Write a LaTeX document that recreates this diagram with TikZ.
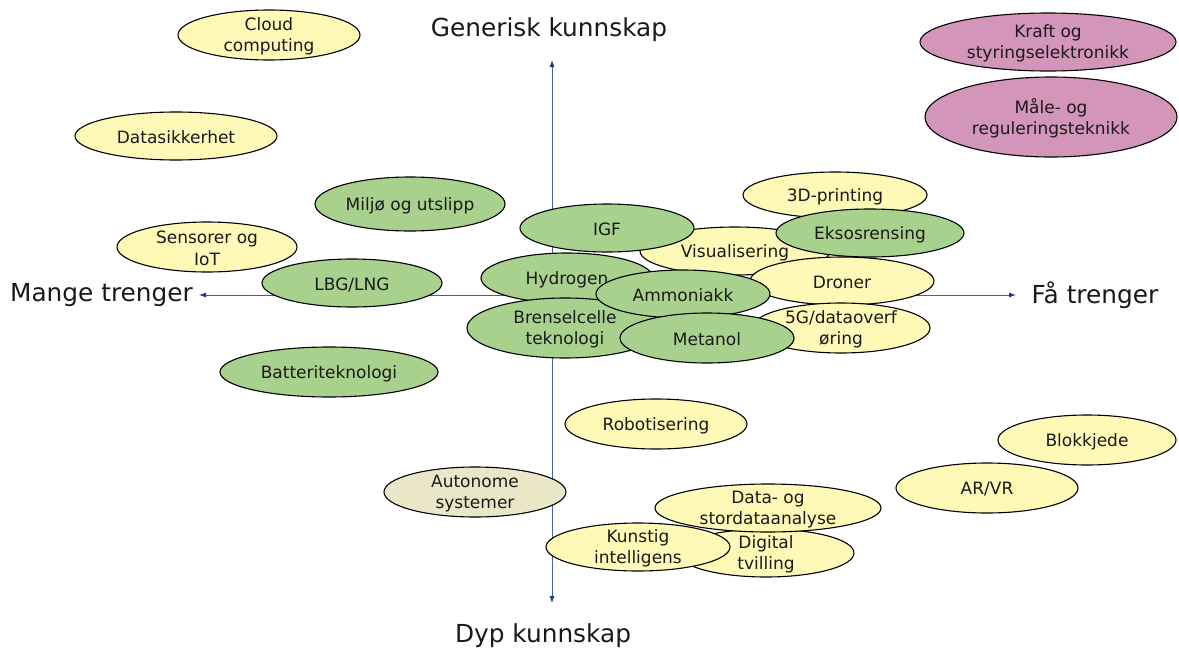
\documentclass[tikz,border=0pt]{standalone}
\usepackage{fontspec}
\setmainfont{DejaVu Sans}
\usetikzlibrary{shapes.geometric,arrows.meta}
\definecolor{yel}{HTML}{FFF9B8}
\definecolor{grn}{HTML}{A9D18E}
\definecolor{pur}{HTML}{D396BA}
\definecolor{bei}{HTML}{EAE6C8}
\definecolor{axis}{HTML}{3D64A6}
\definecolor{tipc}{HTML}{1F3B73}
\definecolor{txt}{HTML}{1A1A1A}
\tikzset{
  ell/.style={ellipse, draw=black, line width=1.1pt, inner sep=0pt},
  lbl/.style={align=center, inner sep=0pt, text=txt, font=\fontsize{17}{21.5}\selectfont},
  axlbl/.style={inner sep=0pt, text=txt, font=\fontsize{24.8}{28}\selectfont},
  axline/.style={draw=axis, line width=0.9pt, {Latex[length=7pt,width=5pt,color=tipc]}-{Latex[length=7pt,width=5pt,color=tipc]}}
}
\newcommand\blob[7]{% name, x, y, rx, ry, colour, text
  \node[ell, fill=#6, minimum width=#4*2pt, minimum height=#5*2pt] (#1) at (#2,#3) {};
  \node[lbl, yshift=-1.5pt] (#1t) at (#1) {#7};
}
\begin{document}
\begin{tikzpicture}[x=1pt,y=-1pt]
\useasboundingbox (0,0) rectangle (1179,651);
\fill[white] (0,0) rectangle (1179,651);
% axes
\coordinate (top) at (552,60);
\coordinate (bot) at (552,603);
\coordinate (lft) at (199,295);
\coordinate (rgt) at (1016,295);
\draw[axline] (bot) -- (top);
\draw[axline] (lft) -- (rgt);
\node[axlbl] (gen) at (549,30) {Generisk kunnskap};
\node[axlbl] (dyp) at (543,636) {Dyp kunnskap};
\node[axlbl] (mange) at (101.5,295) {Mange trenger};
\node[axlbl] (faa) at (1095,295) {Få trenger};
% left / top region
\blob{cloud}{269}{35}{91}{25}{yel}{Cloud\\computing}
\blob{datas}{176}{136}{101}{24}{yel}{Datasikkerhet}
\blob{miljo}{410}{204}{95}{27}{grn}{Miljø og utslipp}
\blob{sens}{207}{247}{90}{25}{yel}{Sensorer og\\IoT}
\blob{lbg}{352}{283}{90}{24}{grn}{LBG/LNG}
\blob{batt}{329}{372}{109}{25}{grn}{Batteriteknologi}
% purple
\blob{kraft}{1048}{42}{128}{29}{pur}{Kraft og\\styringselektronikk}
\blob{maale}{1051}{117}{126}{40}{pur}{Måle- og\\reguleringsteknikk}
% central cluster
\blob{vis}{735}{251}{95}{24}{yel}{Visualisering}
\blob{print}{835}{195}{92}{23}{yel}{3D-printing}
\blob{dron}{842}{281}{92}{24}{yel}{Droner}
\blob{fiveg}{841}{328}{89}{25}{yel}{5G/dataoverf\\øring}
\blob{eksos}{870}{233}{94}{24}{grn}{Eksosrensing}
\blob{igf}{607}{228}{87}{24}{grn}{IGF}
\blob{hydr}{567}{278}{86}{25}{grn}{Hydrogen}
\blob{bren}{565}{328}{98}{30}{grn}{Brenselcelle\\teknologi}
\blob{ammo}{683}{294}{87}{24}{grn}{Ammoniakk}
\blob{meta}{707}{338}{87}{25}{grn}{Metanol}
% lower region
\blob{robot}{656}{424}{91}{25}{yel}{Robotisering}
\blob{blokk}{1087}{440}{89}{25}{yel}{Blokkjede}
\blob{arvr}{987}{488}{91}{25}{yel}{AR/VR}
\blob{auto}{475}{492}{91}{25}{bei}{Autonome\\systemer}
\blob{digi}{766}{553}{88}{24}{yel}{Digital\\tvilling}
\blob{data}{768}{508}{113}{24}{yel}{Data- og\\stordataanalyse}
\blob{kunst}{638}{547}{92}{24}{yel}{Kunstig\\intelligens}
\end{tikzpicture}
\end{document}
